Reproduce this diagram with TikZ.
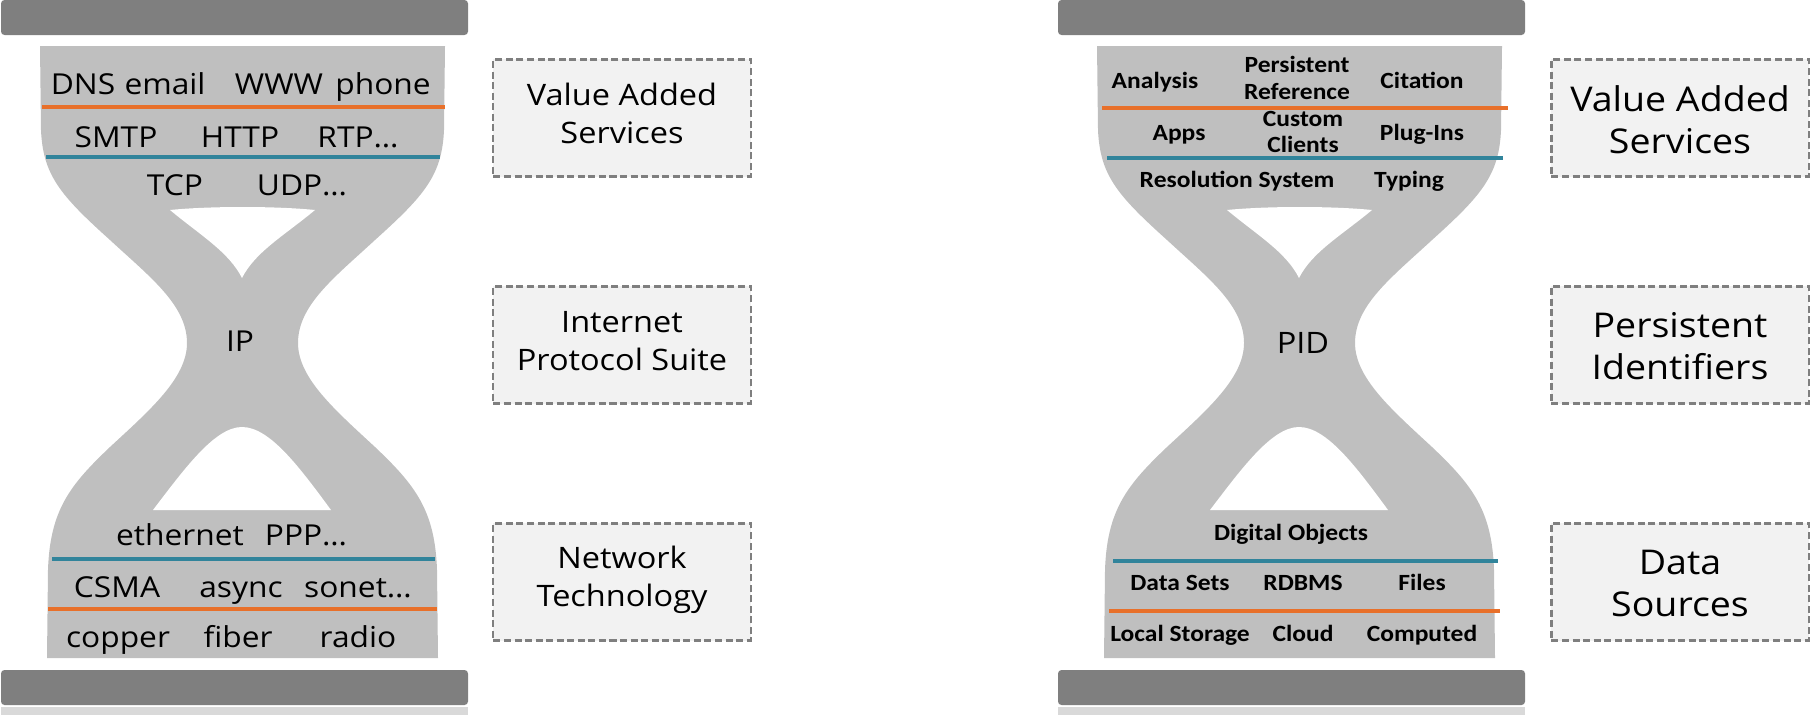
\documentclass[tikz,border=0pt]{standalone}
\usepackage{fontspec}
\setmainfont{Open Sans}[FakeStretch=1.1]
\newfontfamily\calfont{Carlito}[FakeStretch=1.1]
\definecolor{bargray}{HTML}{7F7F7F}
\definecolor{glassgray}{HTML}{BFBFBF}
\definecolor{stripgray}{HTML}{D9D9D9}
\definecolor{boxfill}{HTML}{F2F2F2}
\definecolor{boxline}{HTML}{7F7F7F}
\definecolor{seporange}{HTML}{E8702A}
\definecolor{sepblue}{HTML}{31849B}
\begin{document}
\begin{tikzpicture}[x=0.01cm, y=-0.01cm,
        lyr/.style={inner sep=0pt, anchor=base, font=\fontsize{8.2}{9}\selectfont},
        pidlyr/.style={inner sep=0pt, anchor=base, align=center, font=\calfont\bfseries\fontsize{6.6}{7.5}\selectfont},
        sepline/.style={line width=1.1pt},
        sidebox/.style={draw=boxline, fill=boxfill, line width=0.6pt, dash pattern=on 2pt off 1pt,
            minimum width=2.57cm, minimum height=1.17cm, inner sep=0pt},
        boxtxtL/.style={inner sep=0pt, align=center, font=\fontsize{8.4}{10.8}\selectfont},
        boxtxtR/.style={inner sep=0pt, align=center, font=\fontsize{9.7}{12}\selectfont}]
        \useasboundingbox (0,0) rectangle (1819,718);
        % two hourglasses, same outline
        \foreach \sx in {0,1057} {
            \begin{scope}[shift={(\sx,0)}]
                \fill[bargray, rounded corners=1pt] (1,0) rectangle (468,35);
                \fill[stripgray] (1,707) rectangle (468,715);
                \fill[bargray, rounded corners=1pt] (1,670) rectangle (468,705);
                \fill[glassgray] (40,46) -- (41,130) .. controls (43,175) and (60,195) .. (110,240)
                    .. controls (150,277) and (187,305) .. (187,343)
                    .. controls (187,378) and (150,410) .. (110,447)
                    .. controls (70,485) and (50,510) .. (48,570) -- (47,658) -- (438,658) -- (437,570)
                    .. controls (435,510) and (415,485) .. (375,447)
                    .. controls (335,410) and (298,378) .. (298,343)
                    .. controls (298,305) and (335,277) .. (375,240)
                    .. controls (425,195) and (442,175) .. (444,130) -- (445,46) -- cycle;
                \fill[white] (170,210) .. controls (210,206) and (275,206) .. (315,210)
                    .. controls (285,235) and (255,252) .. (242,278)
                    .. controls (229,252) and (200,235) .. (170,210) -- cycle;
                \fill[white] (153,510) .. controls (185,468) and (215,427) .. (242,427)
                    .. controls (270,427) and (300,468) .. (331,510) -- cycle;
            \end{scope}
        }
        % separators
        \draw[sepline, seporange] (42,107) -- (445,107);
        \draw[sepline, sepblue] (46,157) -- (440,157);
        \draw[sepline, sepblue] (52,559) -- (435,559);
        \draw[sepline, seporange] (48,609) -- (437,609);
        \draw[sepline, seporange] (1102,108) -- (1508,108);
        \draw[sepline, sepblue] (1107,158) -- (1503,158);
        \draw[sepline, sepblue] (1113,561) -- (1498,561);
        \draw[sepline, seporange] (1109,611) -- (1500,611);
        % internet hourglass
        \node[lyr] (dns) at (83,94) {DNS};
        \node[lyr] (email) at (165,94) {email};
        \node[lyr] (www) at (279,94) {WWW};
        \node[lyr] (phone) at (383,94) {phone};
        \node[lyr] (smtp) at (116,147) {SMTP};
        \node[lyr] (http) at (240,147) {HTTP};
        \node[lyr] (rtp) at (358,147) {RTP…};
        \node[lyr] (tcp) at (175,195) {TCP};
        \node[lyr] (udp) at (302,195) {UDP…};
        \node[lyr] (ip) at (240,351) {IP};
        \node[lyr] (eth) at (180,545) {ethernet};
        \node[lyr] (ppp) at (306,545) {PPP…};
        \node[lyr] (csma) at (117,597) {CSMA};
        \node[lyr] (async) at (241,597) {async};
        \node[lyr] (sonet) at (358,597) {sonet…};
        \node[lyr] (copper) at (118,647) {copper};
        \node[lyr] (fiber) at (238,647) {fiber};
        \node[lyr] (radio) at (358,647) {radio};
        % PID hourglass
        \node[pidlyr] (analysis) at (1155,88) {Analysis};
        \node[pidlyr, anchor=center] (persref) at (1297,78) {Persistent\\Reference};
        \node[pidlyr] (citation) at (1422,88) {Citation};
        \node[pidlyr] (apps) at (1179,140) {Apps};
        \node[pidlyr, anchor=center] (custom) at (1303,132) {Custom\\Clients};
        \node[pidlyr] (plugins) at (1422,140) {Plug-Ins};
        \node[pidlyr] (resol) at (1237,187) {Resolution System};
        \node[pidlyr] (typing) at (1409,187) {Typing};
        \node[lyr, font=\fontsize{8.4}{9}\selectfont] (pid) at (1303,353) {PID};
        \node[pidlyr] (digobj) at (1291,540) {Digital Objects};
        \node[pidlyr] (datasets) at (1180,590) {Data Sets};
        \node[pidlyr] (rdbms) at (1303,590) {RDBMS};
        \node[pidlyr] (files) at (1422,590) {Files};
        \node[pidlyr] (local) at (1180,641) {Local Storage};
        \node[pidlyr] (cloud) at (1303,641) {Cloud};
        \node[pidlyr] (computed) at (1422,641) {Computed};
        % side labels
        \node[sidebox] (vasL) at (622,118) {};
        \node[sidebox] (ipsL) at (622,345) {};
        \node[sidebox] (netL) at (622,582) {};
        \node[sidebox] (vasR) at (1680,118) {};
        \node[sidebox] (pidR) at (1680,345) {};
        \node[sidebox] (dsR) at (1680,582) {};
        \node[boxtxtL] (vasLtxt) at ([yshift=0.05cm]vasL.center) {Value Added\\Services};
        \node[boxtxtL] (ipsLtxt) at ([yshift=0.04cm]ipsL.center) {Internet\\Protocol Suite};
        \node[boxtxtL] (netLtxt) at ([yshift=0.02cm]netL.center) {Network\\Technology};
        \node[boxtxtR] (vasRtxt) at ([yshift=-0.015cm]vasR.center) {Value Added\\Services};
        \node[boxtxtR] (pidRtxt) at ([yshift=-0.015cm]pidR.center) {Persistent\\Identifiers};
        \node[boxtxtR] (dsRtxt) at ([yshift=-0.015cm]dsR.center) {Data\\Sources};
    \end{tikzpicture}
\end{document}
